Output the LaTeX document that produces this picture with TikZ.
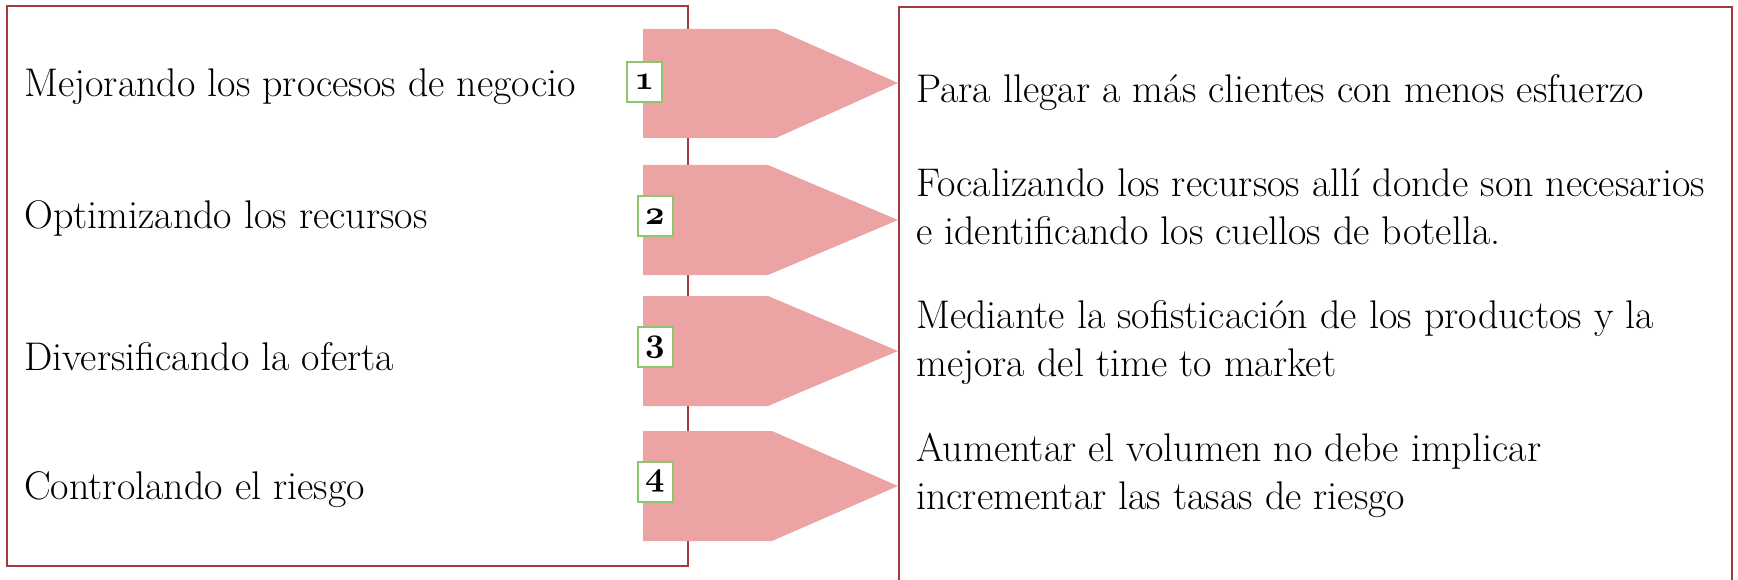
\documentclass[tikz,border=0pt]{standalone}
\usepackage{fix-cm}
\usepackage{tikz}

\definecolor{framered}{RGB}{163,58,60}
\definecolor{arrowpink}{RGB}{236,163,163}
\definecolor{boxgreen}{RGB}{141,198,108}

\newcommand{\stepnum}[1]{{\usefont{OML}{cmm}{b}{it}#1}}

\tikzset{
  frame/.style={draw=framered, line width=2.5pt},
  chevron/.style={fill=arrowpink},
  numbox/.style={draw=boxgreen, line width=2pt, fill=white, minimum width=35pt,
    minimum height=40pt, inner sep=0pt, font=\fontsize{34}{34}\selectfont},
  lefttext/.style={anchor=west, inner sep=0pt, font=\fontsize{40}{48}\selectfont},
  righttext/.style={anchor=west, inner sep=0pt, align=left, font=\fontsize{40}{48}\selectfont}
}

\begin{document}
\begin{tikzpicture}[x=1pt, y=-1pt]
            \useasboundingbox (0,0) rectangle (1738,580);
            \clip (0,0) rectangle (1738,580);

            % left frame
            \draw[frame] (7,6) rectangle (688,566);

            % chevrons
            \fill[chevron] (643,29) -- (776,29) -- (898,83) -- (776,138) -- (643,138) -- cycle;
            \fill[chevron] (643,165) -- (768,165) -- (898,220) -- (768,275) -- (643,275) -- cycle;
            \fill[chevron] (643,296) -- (768,296) -- (898,351) -- (768,406) -- (643,406) -- cycle;
            \fill[chevron] (643,431) -- (772,431) -- (898,486) -- (772,541) -- (643,541) -- cycle;

            % right frame, open at the bottom
            \draw[frame] (899,600) -- (899,7) -- (1732,7) -- (1732,600);

            \node[numbox] (n1) at (644.5,82) {\stepnum{1}};
            \node[numbox] (n2) at (655,216.5) {\stepnum{2}};
            \node[numbox] (n3) at (655,347) {\stepnum{3}};
            \node[numbox] (n4) at (655,481.5) {\stepnum{4}};

            \node[lefttext] (l1) at (24,87) {Mejorando los procesos de negocio};
            \node[lefttext] (l2) at (24,218) {Optimizando los recursos};
            \node[lefttext] (l3) at (24,357) {Diversificando la oferta};
            \node[lefttext] (l4) at (24,490) {Controlando el riesgo};

            \node[righttext] (r1) at (916,93) {Para llegar a más clientes con menos esfuerzo};
            \node[righttext] (r2) at (916,207) {Focalizando los recursos allí donde son necesarios\\e identificando los cuellos de botella.};
            \node[righttext] (r3) at (916,343) {Mediante la sofisticación de los productos y la\\mejora del time to market};
            \node[righttext] (r4) at (916,475) {Aumentar el volumen no debe implicar\\incrementar las tasas de riesgo};
        \end{tikzpicture}
\end{document}
